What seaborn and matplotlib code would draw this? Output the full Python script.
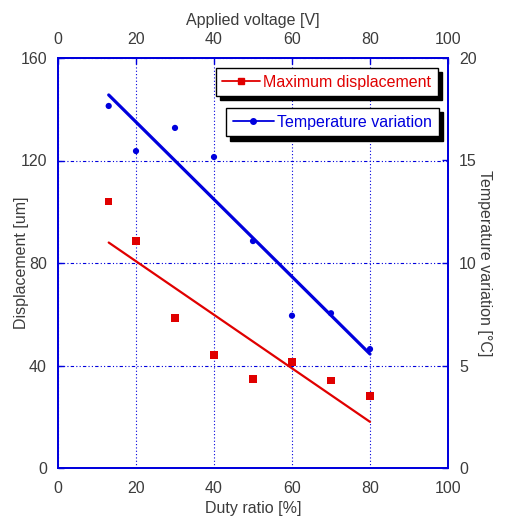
import matplotlib
matplotlib.use("Agg")
import matplotlib.pyplot as plt
import seaborn as sns
import pandas as pd
from matplotlib.lines import Line2D

# ---- data ----
duty_ratio = [13, 20, 30, 40, 50, 60, 70, 80]
displacement = [104.0, 88.6, 58.5, 44.1, 34.7, 41.4, 34.0, 28.1]
temperature = [17.66, 15.46, 16.59, 15.17, 11.07, 7.43, 7.55, 5.80]
x_ticks = [0, 20, 40, 60, 80, 100]
left_ticks = [0, 40, 80, 120, 160]
right_ticks = [0, 5, 10, 15, 20]
series_labels = ["Maximum displacement", "Temperature variation"]

RED = "#e00000"
BLUE = "#0000dd"
TXT = "#3c3c3c"
FS = 11.5

sns.set_style("white")
plt.rcParams['font.family'] = ['Liberation Sans', 'DejaVu Sans']

df = pd.DataFrame({"duty": duty_ratio, "disp": displacement, "temp": temperature})

fig = plt.figure(figsize=(5.06, 5.2), dpi=100)
ax = fig.add_axes([58 / 506, 52 / 520, 390 / 506, 410 / 520])
ax2 = ax.twinx()

# displacement (left axis)
sns.regplot(data=df, x="duty", y="disp", ax=ax, scatter=False, ci=None,
            truncate=True, line_kws=dict(color=RED, lw=1.6, zorder=3))
sns.scatterplot(data=df, x="duty", y="disp", ax=ax, marker="s", s=27,
                color=RED, edgecolor="none", linewidth=0, zorder=4)

# temperature (right axis)
sns.regplot(data=df, x="duty", y="temp", ax=ax2, scatter=False, ci=None,
            truncate=True, line_kws=dict(color=BLUE, lw=2.3, zorder=3))
sns.scatterplot(data=df, x="duty", y="temp", ax=ax2, marker="o", s=20,
                color=BLUE, edgecolor="none", linewidth=0, zorder=4)

ax.set_xlim(0, 100)
ax.set_ylim(0, 160)
ax2.set_ylim(0, 20)
ax.set_xticks(x_ticks)
ax.set_yticks(left_ticks)
ax2.set_yticks(right_ticks)

ax.yaxis.grid(True, color=BLUE, linestyle=(0, (3, 2, 1, 2, 1, 2)), linewidth=0.8)
ax.xaxis.grid(True, color=BLUE, linestyle=(0, (1, 2)), linewidth=0.8)
ax2.grid(False)
ax.set_axisbelow(True)

for a in (ax, ax2):
    for sp in a.spines.values():
        sp.set_color(BLUE)
        sp.set_linewidth(1.3)
        sp.set_visible(True)

ax.tick_params(axis="both", direction="in", length=4, width=1, color=BLUE,
               labelcolor=TXT, labelsize=FS, pad=8)
ax.tick_params(axis="x", pad=9.5)
ax2.tick_params(axis="y", direction="in", length=4, width=1, color=BLUE,
                labelcolor=TXT, labelsize=FS, pad=8)

top = ax.secondary_xaxis("top")
top.set_xticks(x_ticks)
top.tick_params(direction="in", length=4, width=1, color=BLUE,
                labelcolor=TXT, labelsize=FS, pad=8)
top.spines["top"].set_color(BLUE)
top.spines["top"].set_linewidth(1.3)
top.set_xlabel("Applied voltage [V]", color=TXT, fontsize=FS, labelpad=5)

ax.set_xlabel("Duty ratio [%]", color=TXT, fontsize=FS)
ax.xaxis.set_label_coords(0.5, -0.08)
ax.set_ylabel("Displacement [um]", color=TXT, fontsize=FS)
ax.yaxis.set_label_coords(-0.075, 0.5)
ax2.set_ylabel("Temperature variation [°C]", color=TXT, fontsize=FS,
               rotation=270)
ax2.yaxis.set_label_coords(1.114, 0.5)

# legends (two separate boxes with drop shadows)
h1 = Line2D([], [], color=RED, lw=1.3, marker="s", markersize=5)
h2 = Line2D([], [], color=BLUE, lw=1.3, marker="o", markersize=4)
leg_kw = dict(loc="upper right", borderaxespad=0, fancybox=False,
              shadow={"ox": 3, "oy": -3, "color": "black", "alpha": 1},
              edgecolor="black", framealpha=1, fontsize=FS,
              handletextpad=0.2, borderpad=0.42)
leg1 = ax2.legend([h1], [series_labels[0]], bbox_to_anchor=(0.974, 0.976),
                  labelcolor=RED, handlelength=2.35, **leg_kw)
leg1.get_frame().set_linewidth(1.0)
ax2.add_artist(leg1)
leg2 = ax2.legend([h2], [series_labels[1]], bbox_to_anchor=(0.977, 0.878),
                  labelcolor=BLUE, handlelength=2.6, **leg_kw)
leg2.get_frame().set_linewidth(1.0)

fig.savefig("out.png", dpi=100)
